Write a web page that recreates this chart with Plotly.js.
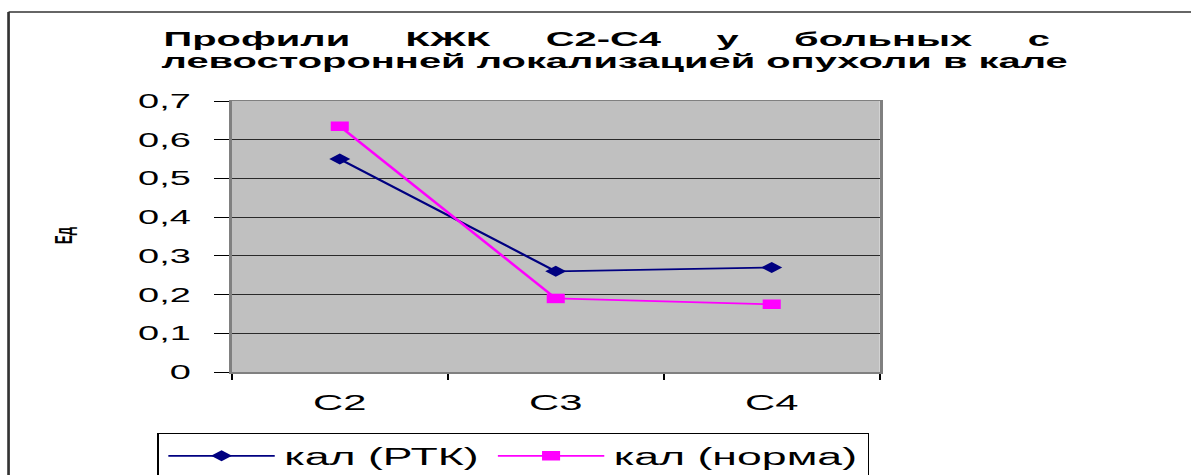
<!DOCTYPE html>
<html>
<head>
<meta charset="utf-8">
<script src="https://cdn.plot.ly/plotly-3.0.1.min.js"></script>
<style>
  html, body { margin: 0; padding: 0; background: #fff; overflow: hidden; }
  /* the chart is laid out narrow and widened horizontally */
  #chart { width: 627px; height: 475px; transform: scaleX(1.9); transform-origin: 0 0; }
</style>
</head>
<body>
<div id="chart"></div>
<script>
// Profile values per chain-length group
const categories = ['C2', 'C3', 'C4'];
const rtk = [0.55, 0.26, 0.27];
const norma = [0.635, 0.19, 0.175];
const seriesNames = ['кал (РТК)', 'кал (норма)'];
const yTickVals = [0, 0.1, 0.2, 0.3, 0.4, 0.5, 0.6, 0.7];
const yTickText = ['0', '0,1', '0,2', '0,3', '0,4', '0,5', '0,6', '0,7'];
const titleLine1 = ['Профили', 'КЖК', 'С2-С4', 'у', 'больных', 'с'];
const titleLine2 = 'левосторонней локализацией опухоли в кале';
const yLabel = 'Ед';

const FONT = '"Liberation Sans", Arial, sans-serif';
const W = 627, H = 475;
const M = { l: 122, r: 164, t: 101, b: 103, autoexpand: false };
const PW = W - M.l - M.r, PH = H - M.t - M.b;
// pixel -> paper coordinates
const px = p => (p - M.l) / PW;
const py = p => (H - M.b - p) / PH;

const nb = n => '\u00a0'.repeat(n);

const traces = [
  {
    x: categories, y: rtk, name: seriesNames[0], type: 'scatter', mode: 'lines+markers',
    line: { color: '#000080', width: 1.8 },
    marker: { symbol: 'diamond', size: 8.5, color: '#000080' }
  },
  {
    x: categories, y: norma, name: seriesNames[1], type: 'scatter', mode: 'lines+markers',
    line: { color: '#ff00ff', width: 1.8 },
    marker: { symbol: 'square', size: 9.5, color: '#ff00ff' }
  }
];

const layout = {
  width: W, height: H,
  margin: M,
  paper_bgcolor: '#ffffff',
  plot_bgcolor: '#c0c0c0',
  font: { family: FONT, color: '#000' },
  showlegend: true,
  xaxis: {
    type: 'category',
    range: [-0.5, 2.5],
    tickson: 'boundaries',
    ticks: 'outside', ticklen: 6, tickwidth: 1, tickcolor: '#000',
    tickfont: { size: 22, family: FONT },
    ticklabelstandoff: 10,
    showgrid: false,
    showline: true, linecolor: '#808080', linewidth: 1.5, mirror: true,
    zeroline: false, fixedrange: true
  },
  yaxis: {
    range: [0, 0.7],
    tickvals: yTickVals, ticktext: yTickText,
    ticks: 'outside', ticklen: 8, tickwidth: 1, tickcolor: '#000',
    tickfont: { size: 20, family: FONT },
    ticklabelstandoff: 8,
    showgrid: true, gridcolor: '#2a2a2a', gridwidth: 1,
    showline: true, linecolor: '#808080', linewidth: 1.5, mirror: true,
    zeroline: false, fixedrange: true
  },
  legend: {
    orientation: 'h',
    x: px(82.6), y: py(433), xanchor: 'left', yanchor: 'top',
    bordercolor: '#000', borderwidth: 1, bgcolor: '#fff',
    font: { size: 23.5, family: FONT },
    itemwidth: 56
  },
  annotations: [
    {
      text: titleLine1.join(nb(5)), xref: 'paper', yref: 'paper',
      x: px(84), y: py(52), xanchor: 'left', yanchor: 'bottom', showarrow: false,
      font: { size: 21, family: FONT, weight: 'bold' }
    },
    {
      text: titleLine2, xref: 'paper', yref: 'paper',
      x: px(83), y: py(74), xanchor: 'left', yanchor: 'bottom', showarrow: false,
      font: { size: 21, family: FONT, weight: 'bold' }
    },
    {
      text: yLabel, xref: 'paper', yref: 'paper', textangle: -90,
      x: px(33), y: py(235), xanchor: 'center', yanchor: 'middle', showarrow: false,
      font: { size: 13, family: FONT, weight: 'bold' }
    }
  ],
  shapes: [
    // outer frame: top and left edges
    { type: 'line', xref: 'paper', yref: 'paper', x0: px(4.5), x1: px(W + 2), y0: py(12), y1: py(12),
      line: { color: '#333', width: 1.7 } },
    { type: 'line', xref: 'paper', yref: 'paper', x0: px(4.5), x1: px(4.5), y0: py(12), y1: py(H + 2),
      line: { color: '#333', width: 1.4 } }
  ]
};

Plotly.newPlot('chart', traces, layout, { displayModeBar: false, staticPlot: true });
</script>
</body>
</html>
